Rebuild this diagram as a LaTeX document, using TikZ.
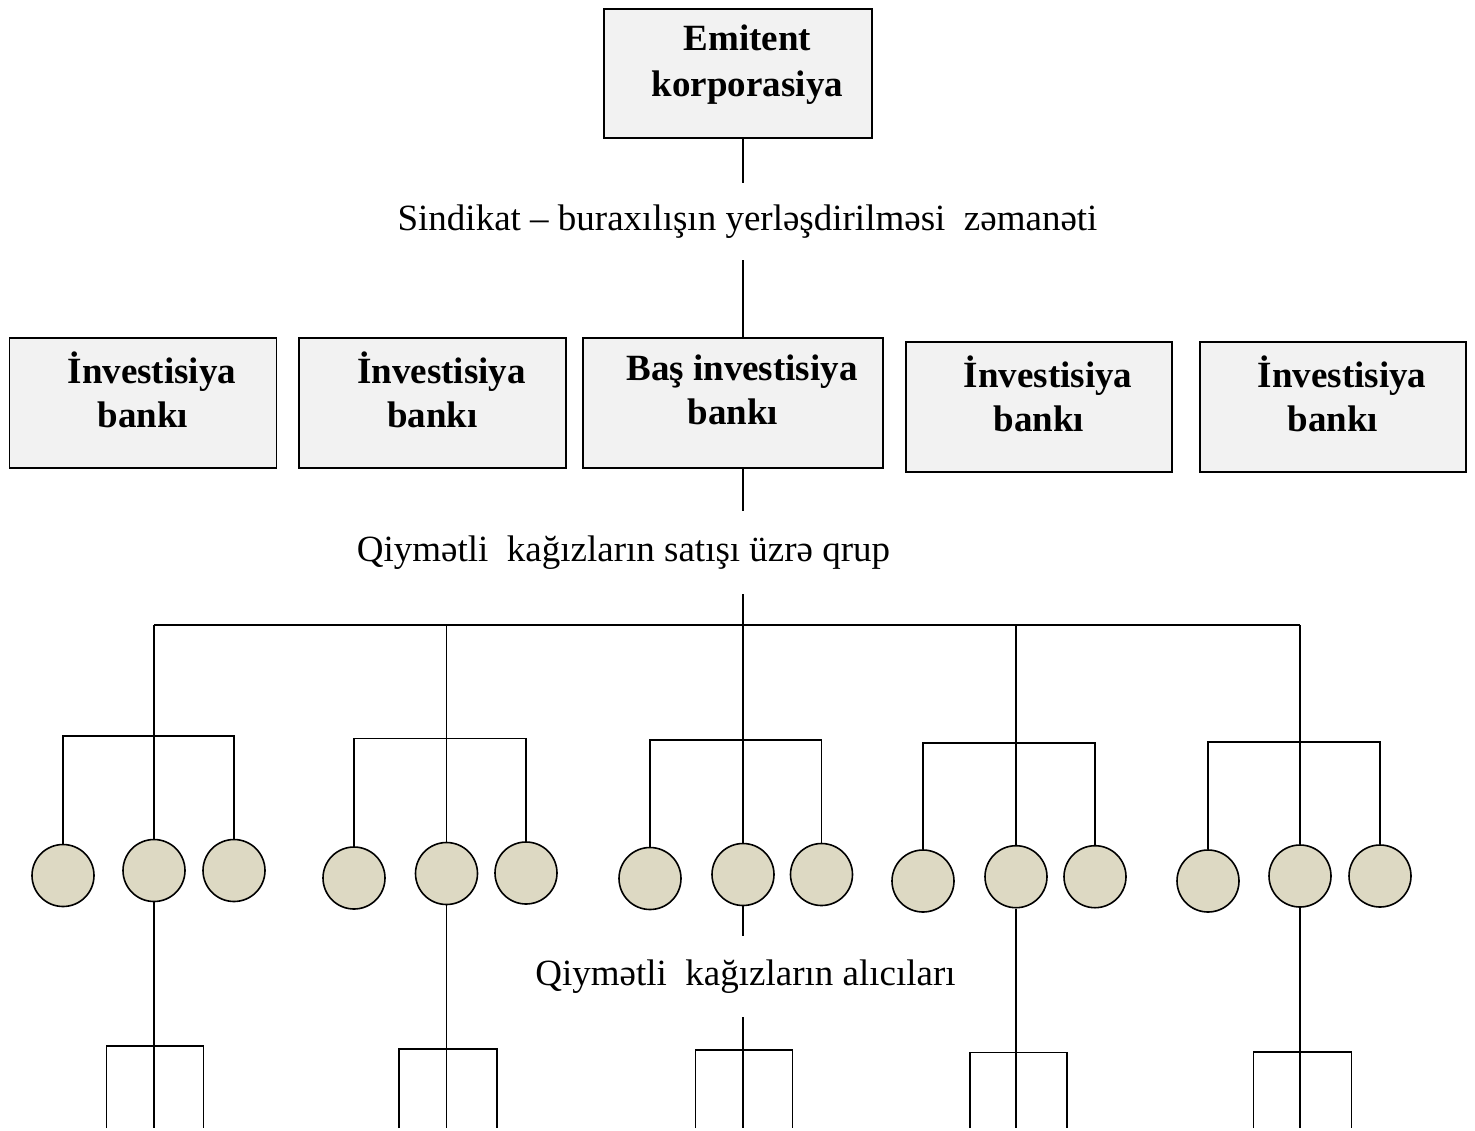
\documentclass[tikz,border=0pt]{standalone}
\usepackage{fontspec}
\setmainfont{Liberation Serif}
\newcommand{\diagfont}{\fontsize{37}{44}\selectfont}
\definecolor{boxgray}{HTML}{F2F2F2}
\definecolor{buyertan}{HTML}{DDD9C3}
\begin{document}
\begin{tikzpicture}[x=1pt, y=-1pt, line width=1.6pt,
    bankbox/.style={rectangle, draw, fill=boxgray, line width=1.8pt, minimum width=267pt, minimum height=130pt},
    boxtext/.style={font=\diagfont\bfseries, align=center, yshift=13pt},
    caption/.style={font=\diagfont, text height=25pt, text depth=8pt, inner sep=0pt},
    buyer/.style={circle, draw, fill=buyertan, minimum size=62pt, inner sep=0pt},
    fork/.style={line width=1.1pt}]
    \useasboundingbox (0,0) rectangle (1475,1130);
    % issuer and syndicate
    \node[bankbox, minimum width=268pt, minimum height=129pt] (emitent) at (738,73.5) {};
    \node[boxtext, font=\fontsize{37}{46}\selectfont\bfseries, xshift=9.5pt, yshift=-4pt] (emitenttext) at (emitent) {Emitent\\korporasiya};
    \node[caption, minimum height=76pt] (sindikat) at (747.5,221.5) {Sindikat -- buraxılışın yerləşdirilməsi~ zəmanəti};
    \node[bankbox] (bank1) at (143,403) {};
    \node[bankbox] (bank2) at (432.5,403) {};
    \node[bankbox, minimum width=300pt] (basbank) at (733,402.7) {};
    \node[bankbox, minimum width=266pt] (bank4) at (1039,406.7) {};
    \node[bankbox, minimum width=266pt] (bank5) at (1333,406.7) {};
    \node[boxtext] (bank1text) at (bank1) {\hspace*{18pt}İnvestisiya\\bankı};
    \node[boxtext] (bank2text) at (bank2) {\hspace*{18pt}İnvestisiya\\bankı};
    \node[boxtext] (basbanktext) at (basbank) {\hspace*{18pt}Baş investisiya\\bankı};
    \node[boxtext] (bank4text) at (bank4) {\hspace*{18pt}İnvestisiya\\bankı};
    \node[boxtext] (bank5text) at (bank5) {\hspace*{18pt}İnvestisiya\\bankı};
    \node[caption, minimum height=82pt] (qrup) at (623.5,552.5) {Qiymətli~ kağızların satışı üzrə qrup};
    \node[caption, minimum height=80pt] (alici) at (745.5,976.5) {Qiymətli~ kağızların alıcıları};
    \coordinate (spine) at (743,0);
    \coordinate (top) at (743,625);
    \coordinate (bot) at (743,1128);
    \draw (spine |- emitent.south) -- (spine |- sindikat.north);
    \draw (spine |- sindikat.south) -- (spine |- basbank.north);
    \draw (spine |- basbank.south) -- (spine |- qrup.north);
    \draw (spine |- qrup.south) -- (top);
    % buyers
    \node[buyer] (c11) at (63,875.5) {};
    \node[buyer] (c12) at (154,870.5) {};
    \node[buyer] (c13) at (234,870.5) {};
    \node[buyer] (c21) at (354,878) {};
    \node[buyer] (c22) at (446.5,873.5) {};
    \node[buyer] (c23) at (526,873) {};
    \node[buyer] (c31) at (650,878.5) {};
    \node[buyer] (c32) at (743,874.5) {};
    \node[buyer] (c33) at (821.5,874.5) {};
    \node[buyer] (c41) at (923,881) {};
    \node[buyer] (c42) at (1016,876.7) {};
    \node[buyer] (c43) at (1095,876.7) {};
    \node[buyer] (c51) at (1208,881) {};
    \node[buyer] (c52) at (1300,876) {};
    \node[buyer] (c53) at (1380,876) {};
    \draw (c12.north |- top) -- (c52.north |- top);
    \coordinate (g1) at (154,736);
    \coordinate (g2) at (446,738.5);
    \coordinate (g3) at (743,740);
    \coordinate (g4) at (1016,742.7);
    \coordinate (g5) at (1300,741.7);
    \draw (c12.north |- top) -- (c12.north);
    \draw (c22.north |- top) -- (c22.north);
    \draw (top) -- (c32.north);
    \draw (c42.north |- top) -- (c42.north);
    \draw (c52.north |- top) -- (c52.north);
    \draw (c11.north) -- (c11.north |- g1) -- (c13.north |- g1) -- (c13.north);
    \draw (c21.north) -- (c21.north |- g2) -- (c23.north |- g2) -- (c23.north);
    \draw (c31.north) -- (c31.north |- g3) -- (c33.north |- g3) -- (c33.north);
    \draw (c41.north) -- (c41.north |- g4) -- (c43.north |- g4) -- (c43.north);
    \draw (c51.north) -- (c51.north |- g5) -- (c53.north |- g5) -- (c53.north);
    % buyers of the buyers
    \coordinate (f1l) at (106.5,1046);
    \coordinate (f1r) at (203.5,1046);
    \coordinate (f2l) at (399,1049);
    \coordinate (f2r) at (497,1049);
    \coordinate (f3l) at (695.5,1050);
    \coordinate (f3r) at (792.5,1050);
    \coordinate (f4l) at (970,1052.5);
    \coordinate (f4r) at (1067,1052.5);
    \coordinate (f5l) at (1253.5,1052);
    \coordinate (f5r) at (1351.5,1052);
    \draw[fork] (c12.south) -- (c12.south |- bot);
    \draw[fork] (c22.south) -- (c22.south |- bot);
    \draw[fork] (c32.south) -- (c32.south |- alici.north);
    \draw[fork] (c32.south |- alici.south) -- (c32.south |- bot);
    \draw[fork] (c42.south) -- (c42.south |- bot);
    \draw[fork] (c52.south) -- (c52.south |- bot);
    \draw[fork] (f1l |- bot) -- (f1l) -- (f1r) -- (f1r |- bot);
    \draw[fork] (f2l |- bot) -- (f2l) -- (f2r) -- (f2r |- bot);
    \draw[fork] (f3l |- bot) -- (f3l) -- (f3r) -- (f3r |- bot);
    \draw[fork] (f4l |- bot) -- (f4l) -- (f4r) -- (f4r |- bot);
    \draw[fork] (f5l |- bot) -- (f5l) -- (f5r) -- (f5r |- bot);
\end{tikzpicture}
\end{document}
